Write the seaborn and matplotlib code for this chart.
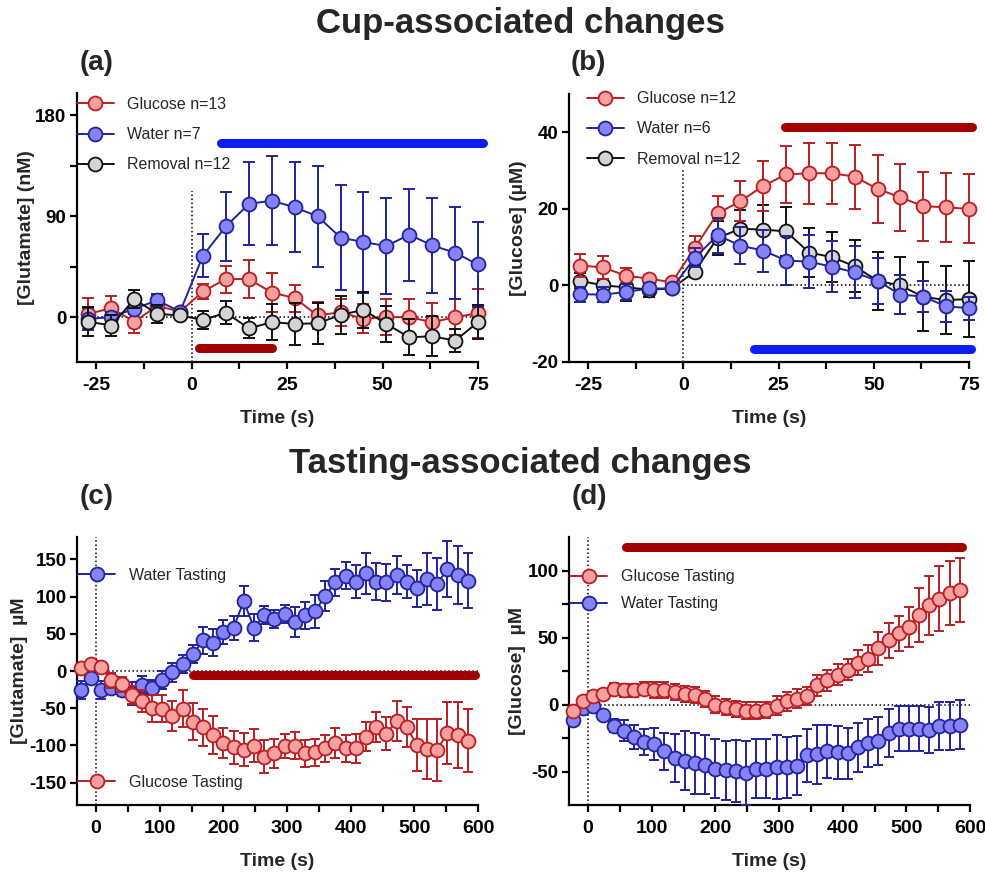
import numpy as np
import pandas as pd
import matplotlib
matplotlib.use('Agg')
import matplotlib.pyplot as plt
import seaborn as sns
from matplotlib.lines import Line2D
from matplotlib.ticker import MultipleLocator
from matplotlib import font_manager

# ---------------- data ----------------
t_cup = [-27, -21, -15, -9, -3, 3, 9, 15, 21, 27, 33, 39, 45, 51, 57, 63, 69, 75]

a_glu_mean = [3, 8, -4, 10, 5, 23, 34, 34, 22, 17, 1.5, 4.5, -1.5, 0, 0, -4.5, 0, 3.5]
a_glu_sem = [14, 11, 10, 10, 2, 7, 12, 17, 17, 12, 12, 12, 13, 16, 16, 17, 16, 22]
a_wat_mean = [-1.5, 0, 7.5, 15, 5, 55, 81, 101, 104, 98, 90, 71, 67, 63.5, 73.6, 64, 57.5, 47]
a_wat_sem = [10, 5, 5, 6, 2, 19, 31, 37, 40, 40, 45, 47, 45, 43, 41, 42, 41, 38]
a_rem_mean = [-4, -7.5, 16, 3, 1.5, -2.5, 4, -10, -4.5, -6, -5.5, 2, 6.5, -6, -18, -17, -21, -4.5]
a_rem_sem = [13, 9, 8, 8, 2, 8, 10, 9, 16, 19, 18, 17, 16, 16, 16, 18, 10, 15]

b_glu_mean = [5.2, 4.7, 2.5, 1.8, 0.8, 9.8, 18.8, 22, 26, 29, 29.3, 29.3, 28.4, 25.2, 23, 20.7, 20.4, 20]
b_glu_sem = [3, 3, 2, 1, 1, 3, 4.5, 5.3, 6.5, 7.5, 8, 8, 8.4, 8.8, 8.8, 9, 9, 9]
b_wat_mean = [-2.3, -2.4, -1.7, -0.8, -0.8, 7.2, 13.1, 10.4, 9.1, 6.5, 6.2, 4.9, 3.4, 1.2, -2.4, -2.9, -5.5, -5.9]
b_wat_sem = [2, 2, 2, 1.5, 1, 2.5, 4.5, 4.9, 5.5, 6.5, 6.9, 6.6, 6.8, 6, 5, 4, 4, 3]
b_rem_mean = [1.2, 0, -0.5, -1.1, -0.8, 3.6, 12.4, 14.8, 14.6, 14.1, 8.6, 7.4, 5, 1.2, 0, -3, -3.8, -3.6]
b_rem_sem = [2, 1.5, 3.5, 2, 1, 1.5, 4.5, 5, 6.5, 6.5, 6.4, 6.5, 6.8, 7.5, 7.4, 9, 9, 10]

t_taste = [-24, -8, 8, 24, 40, 56, 72, 88, 104, 120, 136, 152, 168, 184, 200, 216,
           232, 248, 264, 280, 296, 312, 328, 344, 360, 376, 392, 408, 424, 440,
           456, 472, 488, 504, 520, 536, 552, 568, 584]

c_wat_mean = [-26, -9, -26, -22.5, -25, -30, -19, -22.5, -12.6, -2, 9.5, 22.5, 41, 38, 52.6, 58,
              94, 58, 75, 70, 76, 66, 75, 80, 101, 119, 128, 120, 131, 120, 119, 129, 120, 111,
              123, 117, 137, 129, 121]
c_wat_sem = [12, 8, 12, 8, 8, 15, 12, 10, 12, 13, 12, 12, 18, 18, 16, 16, 20, 18, 12, 12, 12, 20,
             18, 22, 20, 18, 18, 22, 27, 25, 25, 26, 22, 25, 35, 35, 38, 39, 37]
c_glu_mean = [4.5, 10, 5.4, -12.6, -18, -32, -40.5, -50, -50.4, -60, -50.4, -68, -75.6, -86, -96.8,
              -102.6, -105.8, -100.4, -115, -110.7, -100.4, -100.4, -110.7, -109, -104, -97, -104,
              -104, -88, -75.6, -84, -67.5, -75.6, -99, -105, -106, -83, -86, -93.6]
c_glu_sem = [5, 5, 5, 10, 10, 12, 15, 18, 18, 20, 25, 25, 25, 25, 20, 22, 22, 22, 22, 20, 16, 18,
             18, 18, 18, 20, 18, 20, 20, 20, 22, 27, 27, 35, 40, 42, 42, 44, 42]

d_glu_mean = [-4.5, 2.5, 6, 8, 11.8, 10.5, 10.5, 11.8, 11, 10.5, 9.3, 8, 6.8, 4.3, 0, -2, -3.5,
              -4.5, -4.5, -3.8, -0.8, 2.5, 4.3, 6.3, 14.3, 18, 22.3, 26, 31.3, 34.3, 41.8, 48, 53,
              58, 66.8, 74, 79, 83, 85.5]
d_glu_sem = [3, 2, 2, 3, 4, 5, 5, 5, 6, 6, 6, 6, 6, 6, 6, 6, 6, 6, 6, 6, 7, 7, 7, 7, 8, 8, 8, 8,
             9, 10, 12, 13, 13, 15, 20, 22, 24, 24, 24]
d_wat_mean = [-11.5, -2.8, -1.2, -7.8, -15.8, -19.5, -24, -28, -29.5, -35, -40, -42, -44, -45,
              -47.8, -49, -49.5, -51, -48, -47.8, -46.5, -47, -45.8, -38, -37, -35, -35.8, -36.5,
              -32, -28.8, -27, -21, -18, -18, -18, -19, -16, -15.8, -15]
d_wat_sem = [3, 2, 2, 4, 5, 8, 9, 10, 12, 14, 18, 22, 23, 22, 22, 22, 23, 24, 22, 22, 24, 23, 22,
             20, 22, 20, 20, 19, 18, 18, 18, 18, 17, 17, 17, 17, 18, 18, 18]

# significance bars: (x start, x end, y)
a_sig_water = (7.8, 76.4, 155)
a_sig_glu = (1.9, 21.1, -27.5)
b_sig_glu = (26.6, 75.7, 41.3)
b_sig_water = (18.6, 75.4, -16.7)
c_sig_glu = (151.7, 594.7, -5)
d_sig_glu = (60, 587, 117.5)

# ---------------- style ----------------
sns.set_theme(style='ticks')
avail = {f.name for f in font_manager.fontManager.ttflist}
narrow = 'Liberation Sans Narrow' if 'Liberation Sans Narrow' in avail else 'Liberation Sans'
plt.rcParams['font.family'] = [narrow, 'Liberation Sans', 'DejaVu Sans']
plt.rcParams['axes.unicode_minus'] = False
plt.rcParams['axes.linewidth'] = 1.6
for k in ['xtick.major.width', 'ytick.major.width', 'xtick.minor.width', 'ytick.minor.width']:
    plt.rcParams[k] = 1.6
for k in ['xtick.major.size', 'ytick.major.size', 'xtick.minor.size', 'ytick.minor.size']:
    plt.rcParams[k] = 5
plt.rcParams['xtick.color'] = 'black'
plt.rcParams['ytick.color'] = 'black'
plt.rcParams['axes.edgecolor'] = 'black'

GLU = dict(face='#F7A0A0', edge='#B81E24')
WAT = dict(face='#8484F6', edge='#23239A')
REM = dict(face='#D4D4D4', edge='#111111')
SIG_RED = '#A00000'
SIG_BLUE = '#0A1EF0'

fig = plt.figure(figsize=(9.85, 8.73), dpi=100)
W, H = 985, 873


def add_ax(left, top, right, bottom):
    return fig.add_axes([left / W, 1 - bottom / H, (right - left) / W, (bottom - top) / H])


def series(ax, t, m, s, st, z, ms, cap):
    df = pd.DataFrame({'t': t, 'm': m})
    ax.errorbar(t, m, yerr=s, fmt='none', ecolor=st['edge'], elinewidth=1.4,
                capsize=cap, capthick=1.4, zorder=z, clip_on=False)
    sns.lineplot(data=df, x='t', y='m', ax=ax, color=st['edge'], lw=1.4, marker='o',
                 markersize=ms, markerfacecolor=st['face'], markeredgecolor=st['edge'],
                 markeredgewidth=1.3, zorder=z + 0.5, clip_on=False, legend=False,
                 errorbar=None, sort=False)


def handle(st, ms):
    return Line2D([], [], color=st['edge'], lw=1.4, marker='o', markersize=ms,
                  markerfacecolor=st['face'], markeredgecolor=st['edge'], markeredgewidth=1.3)


def sig(ax, bar, color):
    x0, x1, y = bar
    ax.plot([x0, x1], [y, y], color=color, lw=6.5, solid_capstyle='round', clip_on=False, zorder=10)


def style_ax(ax, ylabel, ylab_x):
    sns.despine(ax=ax)
    ax.tick_params(axis='x', which='both', direction='out', labelsize=14, pad=6)
    ax.tick_params(axis='y', which='both', direction='out', labelsize=13.5, pad=2.5)
    for lab in ax.get_xticklabels() + ax.get_yticklabels():
        lab.set_fontweight('bold')
    ax.set_xlabel('Time (s)', fontsize=14, fontweight='bold', labelpad=11)
    ax.set_ylabel(ylabel, fontsize=14, fontweight='bold')
    ax.yaxis.set_label_coords(ylab_x, 0.5)


axA = add_ax(77, 93, 478, 362)
axB = add_ax(569, 94, 969, 362)
axC = add_ax(77, 537, 478, 805)
axD = add_ax(569, 537, 970, 805)

# ---- (a) ----
ax = axA
ax.plot([0, 0], [-40, 113], ls=':', color='black', lw=1.1, zorder=1)
ax.plot([-30, 75], [0, 0], ls=':', color='black', lw=1.1, zorder=1)
series(ax, t_cup, a_glu_mean, a_glu_sem, GLU, 3, 10, 4.5)
series(ax, t_cup, a_wat_mean, a_wat_sem, WAT, 4, 10, 4.5)
series(ax, t_cup, a_rem_mean, a_rem_sem, REM, 5, 10, 4.5)
sig(ax, a_sig_water, SIG_BLUE)
sig(ax, a_sig_glu, SIG_RED)
ax.set_xlim(-30, 75)
ax.set_ylim(-40, 200)
ax.set_xticks([-25, 0, 25, 50, 75])
ax.xaxis.set_minor_locator(MultipleLocator(12.5))
ax.set_yticks([0, 90, 180])
ax.set_yticks([45, 135], minor=True)
style_ax(ax, '[Glutamate] (nM)', -0.105)
ax.legend([handle(GLU, 10), handle(WAT, 10), handle(REM, 10)],
          ['Glucose n=13', 'Water n=7', 'Removal n=12'],
          loc='upper left', bbox_to_anchor=(0.0, 0.985), frameon=False, fontsize=11.5,
          handlelength=2.3, handletextpad=0.8, labelspacing=0.95, borderaxespad=0, borderpad=0)

# ---- (b) ----
ax = axB
ax.plot([0, 0], [-20, 30.7], ls=':', color='black', lw=1.1, zorder=1)
ax.plot([0, 75], [0, 0], ls=':', color='black', lw=1.1, zorder=1)
series(ax, t_cup, b_rem_mean, b_rem_sem, REM, 3, 10, 4.5)
series(ax, t_cup, b_glu_mean, b_glu_sem, GLU, 4, 10, 4.5)
series(ax, t_cup, b_wat_mean, b_wat_sem, WAT, 5, 10, 4.5)
sig(ax, b_sig_glu, SIG_RED)
sig(ax, b_sig_water, SIG_BLUE)
ax.set_xlim(-30, 75)
ax.set_ylim(-20, 50)
ax.set_xticks([-25, 0, 25, 50, 75])
ax.xaxis.set_minor_locator(MultipleLocator(12.5))
ax.set_yticks([-20, 0, 20, 40])
style_ax(ax, '[Glucose] (µM)', -0.105)
ax.legend([handle(GLU, 10), handle(WAT, 10), handle(REM, 10)],
          ['Glucose n=12', 'Water n=6', 'Removal n=12'],
          loc='upper left', bbox_to_anchor=(0.045, 1.01), frameon=False, fontsize=11.5,
          handlelength=2.3, handletextpad=0.8, labelspacing=0.95, borderaxespad=0, borderpad=0)

# ---- (c) ----
ax = axC
ax.plot([0, 0], [-180, 180], ls=':', color='black', lw=1.1, zorder=1)
ax.plot([0, 600], [0, 0], ls=':', color='black', lw=1.1, zorder=1)
series(ax, t_taste, c_wat_mean, c_wat_sem, WAT, 3, 10, 3.5)
series(ax, t_taste, c_glu_mean, c_glu_sem, GLU, 4, 10, 3.5)
sig(ax, c_sig_glu, SIG_RED)
ax.set_xlim(-30, 600)
ax.set_ylim(-180, 180)
ax.set_xticks(range(0, 601, 100))
ax.xaxis.set_minor_locator(MultipleLocator(50))
ax.set_yticks(range(-150, 151, 50))
style_ax(ax, '[Glutamate]  µM', -0.122)
leg1 = ax.legend([handle(WAT, 10)], ['Water Tasting'], loc='center left',
                 bbox_to_anchor=(0.003, 0.858), frameon=False, fontsize=11.5,
                 handlelength=2.3, handletextpad=0.9, borderaxespad=0, borderpad=0)
ax.add_artist(leg1)
ax.legend([handle(GLU, 10)], ['Glucose Tasting'], loc='center left',
          bbox_to_anchor=(0.003, 0.085), frameon=False, fontsize=11.5,
          handlelength=2.3, handletextpad=0.9, borderaxespad=0, borderpad=0)

# ---- (d) ----
ax = axD
ax.plot([0, 0], [-75, 125], ls=':', color='black', lw=1.1, zorder=1)
ax.plot([0, 600], [0, 0], ls=':', color='black', lw=1.1, zorder=1)
series(ax, t_taste, d_wat_mean, d_wat_sem, WAT, 3, 10, 3.5)
series(ax, t_taste, d_glu_mean, d_glu_sem, GLU, 4, 10, 3.5)
sig(ax, d_sig_glu, SIG_RED)
ax.set_xlim(-30, 600)
ax.set_ylim(-75, 125)
ax.set_xticks(range(0, 601, 100))
ax.xaxis.set_minor_locator(MultipleLocator(50))
ax.set_yticks([-50, 0, 50, 100])
ax.set_yticks([-25, 25, 75], minor=True)
style_ax(ax, '[Glucose]  µM', -0.108)
ax.legend([handle(GLU, 10), handle(WAT, 10)], ['Glucose Tasting', 'Water Tasting'],
          loc='upper left', bbox_to_anchor=(0.003, 0.88), frameon=False, fontsize=11.5,
          handlelength=2.3, handletextpad=0.9, labelspacing=0.75, borderaxespad=0, borderpad=0)

# ---- titles and panel letters ----
fig.text(520 / W, 1 - 23 / H, 'Cup-associated changes', ha='center', va='center',
         fontsize=25, fontweight='bold')
fig.text(520 / W, 1 - 463 / H, 'Tasting-associated changes', ha='center', va='center',
         fontsize=25, fontweight='bold')
for lbl, x, y in [('(a)', 97, 63), ('(b)', 588, 63), ('(c)', 97, 497), ('(d)', 589, 497)]:
    fig.text(x / W, 1 - y / H, lbl, ha='center', va='center', fontsize=20, fontweight='bold')

fig.savefig('out.png', dpi=100)
